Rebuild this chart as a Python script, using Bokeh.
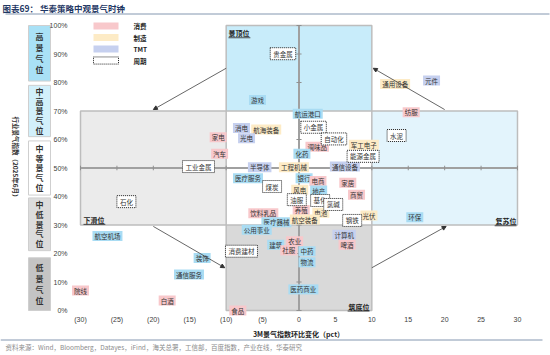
import math
from bokeh.plotting import figure
from bokeh.models import (ColumnDataSource, Arrow, NormalHead, LinearAxis, FixedTicker,
                          CustomJSTickFormatter, Range1d)
from bokeh.core.properties import value, field
from bokeh.embed import file_html
from bokeh.resources import INLINE

# ---------------- data ----------------
# colored (consumer / manufacturing / TMT / other) industries
names = ["游戏", "通用设备", "元件", "纺服", "航运港口", "消电", "航海装备", "光电", "家电", "汽车",
         "调味品", "军工电子", "化药", "半导体", "工程机械", "通信设备", "医疗服务", "银行", "电商", "家居",
         "地产", "商贸", "风电", "饮料乳品", "养殖", "电池", "光伏", "医疗器械", "航空装备", "公用事业",
         "计算机", "啤酒", "农业", "建筑", "社服", "中药", "物流", "医药商业", "食品", "航空机场",
         "装饰", "通信服务", "院线", "白酒", "环保"]
x_chg = [-5.7, 13.2, 18.2, 15.4, 1.2, -7.9, -4.5, -7.2, -11.1, -10.9,
         2.5, 8.9, 0.4, -5.4, -0.7, 6.3, -7.0, 0.7, 2.6, 6.7,
         2.7, 7.9, 0.1, -4.9, 0.3, 3.0, 9.6, -3.1, 0.8, -5.8,
         6.2, 6.6, -0.6, -3.2, -1.4, 1.1, 1.1, 0.6, -8.4, -26.3,
         -13.3, -15.1, -30.0, -18.1, 15.9]
y_idx = [73.9, 79.5, 80.7, 69.6, 69.0, 64.0, 63.5, 60.4, 60.8, 55.0,
         57.5, 58.2, 55.0, 50.3, 50.3, 50.5, 46.4, 46.4, 45.4, 44.8,
         42.1, 40.6, 42.4, 34.1, 35.3, 34.3, 33.3, 31.0, 31.9, 28.3,
         26.6, 23.1, 24.3, 23.1, 21.1, 20.8, 16.9, 7.4, 0.0, 26.1,
         18.4, 12.6, 7.0, 3.5, 32.7]
groups = ["其他", "制造", "TMT", "消费", "其他", "TMT", "制造", "TMT", "消费", "消费",
          "消费", "制造", "其他", "TMT", "制造", "TMT", "其他", "其他", "消费", "消费",
          "其他", "消费", "制造", "消费", "消费", "制造", "制造", "其他", "制造", "其他",
          "TMT", "消费", "消费", "其他", "消费", "其他", "其他", "其他", "消费", "其他",
          "其他", "其他", "消费", "消费", "其他"]

# cyclical industries (dotted boxes)
cyc_names = ["贵金属", "水泥", "小金属", "自动化", "能源金属", "工业金属", "石化", "煤炭",
             "油服", "基化", "氯碱", "钢铁", "消费建材"]
cyc_x = [-2.2, 13.4, 2.0, 4.8, 8.8, -13.8, -23.7, -3.7, -0.3, 2.9, 4.7, 7.3, -7.9]
cyc_y = [90.1, 61.4, 64.3, 60.2, 54.1, 50.5, 38.2, 43.5, 38.9, 38.6, 37.2, 31.6, 20.8]

group_colors = {"消费": "#f8c8cb", "制造": "#fdebc6", "TMT": "#c6d0ef", "其他": "#a9dcf3"}
legend_names = ["消费", "制造", "TMT", "周期"]

x_ticks = [-30, -25, -20, -15, -10, -5, 0, 5, 10, 15, 20, 25, 30]
x_tick_labels = ["(30)", "(25)", "(20)", "(15)", "(10)", "(5)", "0", "5", "10", "15", "20", "25", "30"]
y_ticks = [0, 10, 20, 30, 40, 50, 60, 70, 80, 90, 100]
y_tick_labels = ["0%", "10%", "20%", "30%", "40%", "50%", "60%", "70%", "80%", "90%", "100%"]

# clock zones
zone_names = ["景顶位", "下滑位", "筑底位", "复苏位"]
zone_left = [-10, -30, -10, 10]
zone_right = [10, -10, 10, 30]
zone_bottom = [70, 30, 0, 30]
zone_top = [100, 70, 30, 70]
zone_colors = ["#c8ecfa", "#ebebeb", "#d9d9d9", "#e3f4fc"]

level_names = ["高景气位", "中高景气位", "中等景气位", "中低景气位", "低景气位"]
level_top = [100, 79, 59.5, 39.5, 18.5]
level_bottom = [80.5, 61, 40.5, 21, 0]
level_colors = ["#a9e1f6", "#d2f0fb", "#ffffff", "#dcdcdc", "#c4c4c4"]

# ---------------- geometry helpers (reference pixel -> data) ----------------
PXX, X0 = 7.283, 298.5
PXY, Y0 = 2.85, 310.0
def sx(px):
    return (px - X0) / PXX
def sy(py):
    return (Y0 - py) / PXY

CJK = "Noto Sans CJK SC"
LAT = "Liberation Sans"

p = figure(width=550, height=355, x_range=Range1d(sx(0), sx(550)), y_range=Range1d(sy(355), sy(0)),
           min_border=0, toolbar_location=None, output_backend="svg",
           x_axis_location=None, y_axis_location=None, outline_line_color=None,
           background_fill_color="white", border_fill_color="white")
for g in p.grid:
    g.visible = False

fmt_code = "const i = t.findIndex(v => Math.abs(v - tick) < 1e-6); return i >= 0 ? l[i] : '';"
xa = LinearAxis(fixed_location=sy(309), ticker=FixedTicker(ticks=x_ticks),
                formatter=CustomJSTickFormatter(args=dict(t=x_ticks, l=x_tick_labels), code=fmt_code),
                axis_line_color=None, major_tick_line_color=None, minor_tick_line_color=None,
                major_label_standoff=0, major_label_text_font_size="7px",
                major_label_text_font=LAT, major_label_text_color="#404040")
p.add_layout(xa, "below")
ya = LinearAxis(fixed_location=sx(76), ticker=FixedTicker(ticks=y_ticks),
                formatter=CustomJSTickFormatter(args=dict(t=y_ticks, l=y_tick_labels), code=fmt_code),
                axis_line_color=None, major_tick_line_color=None, minor_tick_line_color=None,
                major_label_standoff=3, major_label_text_font_size="7px",
                major_label_text_font=LAT, major_label_text_color="#404040")
p.add_layout(ya, "left")

# zones
p.quad(left=zone_left, right=zone_right, bottom=zone_bottom, top=zone_top,
       fill_color=zone_colors, line_color="#bdbdbd", line_width=1.5)

# center cross lines with ticks
p.segment(x0=[x_ticks[0]], y0=[50], x1=[x_ticks[-1]], y1=[50], line_color="#a0a0a0", line_width=2)
p.segment(x0=[0], y0=[y_ticks[0]], x1=[0], y1=[y_ticks[-1]], line_color="#a0a0a0", line_width=2)
p.segment(x0=x_ticks, y0=[50 - 0.8] * len(x_ticks), x1=x_ticks, y1=[50 + 0.8] * len(x_ticks),
          line_color="#909090", line_width=1)
p.segment(x0=[-0.35] * len(y_ticks), y0=y_ticks, x1=[0.35] * len(y_ticks), y1=y_ticks,
          line_color="#909090", line_width=1)

# arrows (clockwise rotation)
arrows = [(-10, 85, -20, 70.5), (20, 70.5, 10.2, 85), (-20, 29.5, -10.2, 15), (10, 15, 20.2, 29.5)]
for (a, b, c, d) in arrows:
    p.add_layout(Arrow(end=NormalHead(size=4, fill_color="#333333", line_color="#333333"),
                       x_start=a, y_start=b, x_end=c, y_end=d, line_color="#404040", line_width=0.8))

# zone titles (bold, underlined)
zl_x = [sx(228), sx(83), sx(369), sx(516)]
zl_y = [sy(32.7), sy(219.3), sy(306), sy(220.7)]
zl_align = ["left", "left", "right", "right"]
p.text(x=zl_x, y=zl_y, text=zone_names, text_align=zl_align, text_baseline="middle",
       text_font=value(CJK), text_font_size="7px", text_font_style="bold", text_color="#222222")
ul_x0 = [zl_x[0], zl_x[1], zl_x[2] - 3.0, zl_x[3] - 3.0]
ul_x1 = [zl_x[0] + 3.0, zl_x[1] + 3.0, zl_x[2], zl_x[3]]
ul_y = [v - 1.6 for v in zl_y]
p.segment(x0=ul_x0, y0=ul_y, x1=ul_x1, y1=ul_y, line_color="#222222", line_width=0.8)

# industry labels
src = ColumnDataSource(dict(x=x_chg, y=y_idx, name=names, bg=[group_colors[g] for g in groups]))
p.text(x="x", y="y", text="name", source=src, text_align="center", text_baseline="middle",
       text_font=value(CJK), text_font_size="6.5px", text_color="#333333",
       background_fill_color=field("bg"), border_line_color=None, padding=dict(x=2, y=0))
src2 = ColumnDataSource(dict(x=cyc_x, y=cyc_y, name=cyc_names))
p.text(x="x", y="y", text="name", source=src2, text_align="center", text_baseline="middle",
       text_font=value(CJK), text_font_size="6.5px", text_color="#333333",
       background_fill_color="white", border_line_color="#222222", border_line_width=1,
       border_line_dash="1 1", padding=dict(x=3, y=1))

# legend
lg_y = [sy(25.5), sy(37), sy(48.5), sy(60)]
lg_h = 1.25
p.quad(left=[sx(93)] * 3, right=[sx(118)] * 3, bottom=[v - lg_h for v in lg_y[:3]],
       top=[v + lg_h for v in lg_y[:3]], fill_color=[group_colors[n] for n in legend_names[:3]],
       line_color=None)
p.quad(left=[sx(93)], right=[sx(118)], bottom=[lg_y[3] - lg_h], top=[lg_y[3] + lg_h],
       fill_color="white", line_color="#222222", line_dash="1 1", line_width=1)
p.text(x=[sx(133)] * 4, y=lg_y, text=legend_names, text_baseline="middle",
       text_font=value(CJK), text_font_size="6.5px", text_font_style="bold", text_color="#222222")

# left level boxes
p.quad(left=[sx(28)] * 5, right=[sx(50)] * 5, bottom=level_bottom, top=level_top,
       fill_color=level_colors, line_color="#cfcfcf", line_width=1)
lv4 = [i for i, n in enumerate(level_names) if len(n) == 4]
lv5 = [i for i, n in enumerate(level_names) if len(n) == 5]
for idx, lh in ((lv4, 1.0), (lv5, 0.88)):
    p.text(x=[sx(39)] * len(idx), y=[(level_top[i] + level_bottom[i]) / 2 for i in idx],
           text=["\n".join(level_names[i]) for i in idx], text_align="center", text_baseline="middle",
           text_line_height=lh, text_font=value(CJK), text_font_size="8px", text_font_style="bold",
           text_color="#333333")

# y-axis title (vertical)
p.text(x=[sx(15.5)], y=[sy(158)], text=["行业景气指数（2025年6月）"], angle=-math.pi / 2,
       text_align="center", text_baseline="middle", text_font=value(CJK), text_font_size="6.5px",
       text_font_style="bold", text_color="#333333")
# x-axis title
p.text(x=[sx(298)], y=[sy(333)], text=["3M景气指数环比变化（pct）"], text_align="center",
       text_baseline="middle", text_font=value(CJK), text_font_size="7px", text_font_style="bold",
       text_color="#222222")

# chart title & footer
p.text(x=[sx(2)], y=[sy(7)], text=["图表69：  华泰策略中观景气时钟"], text_baseline="middle",
       text_font=value(CJK), text_font_size="8.5px", text_font_style="bold", text_color="#1f3864")
p.segment(x0=[sx(5)], y0=[sy(13.5)], x1=[sx(549)], y1=[sy(13.5)], line_color="#8497b0", line_width=1)
p.segment(x0=[sx(0)], y0=[sy(339.5)], x1=[sx(542)], y1=[sy(339.5)], line_color="#8497b0", line_width=1)
p.text(x=[sx(5)], y=[sy(346.5)],
       text=["资料来源：Wind，Bloomberg，Datayes，iFind，海关总署，工信部，百度指数，产业在线，华泰研究"],
       text_baseline="middle", text_font=value(CJK), text_font_size="6.5px", text_color="#8c8c8c")

open("out.html", "w").write(file_html(p, INLINE))
